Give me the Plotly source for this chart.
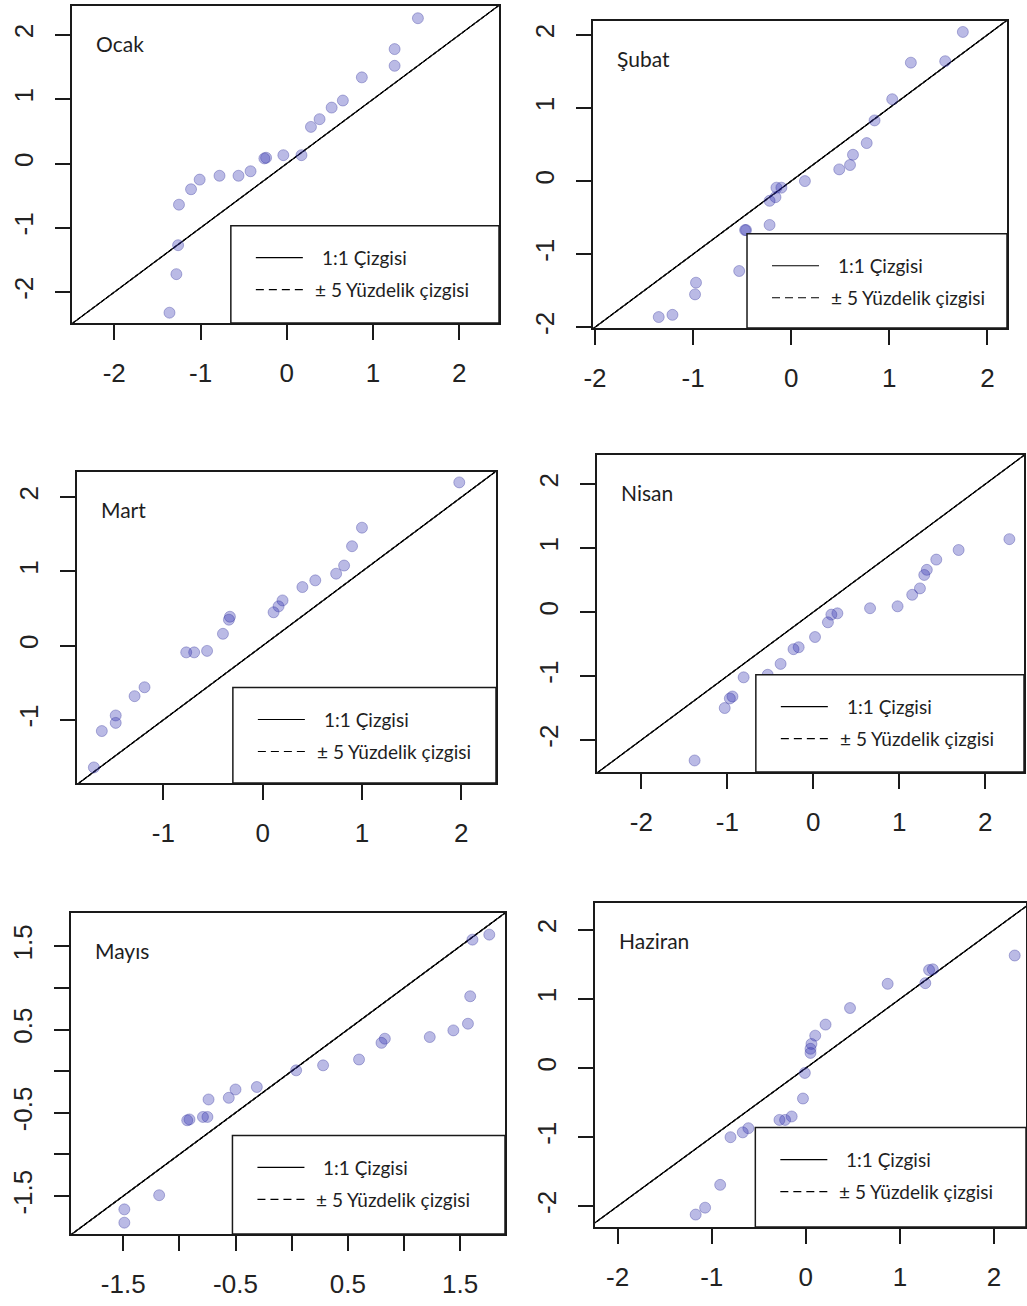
import plotly.graph_objects as go

W, H = 1027, 1306

# ---------------- data ----------------
months = ["Ocak", "Şubat", "Mart", "Nisan", "Mayıs", "Haziran"]

ocak_x = [1.52, 1.25, 1.25, 0.87, 0.65, 0.52, 0.38, 0.28, 0.17, -0.04, -0.24, -0.26, -0.42, -0.56, -0.78, -1.01, -1.11, -1.25, -1.26, -1.28, -1.36]
ocak_y = [2.26, 1.78, 1.52, 1.34, 0.98, 0.87, 0.69, 0.57, 0.13, 0.13, 0.09, 0.08, -0.12, -0.19, -0.19, -0.25, -0.40, -0.64, -1.27, -1.72, -2.32]

subat_x = [1.75, 1.22, 1.57, 1.03, 0.85, 0.77, 0.63, 0.60, 0.49, 0.14, -0.10, -0.15, -0.16, -0.22, -0.22, -0.46, -0.47, -0.53, -0.97, -0.98, -1.21, -1.35]
subat_y = [2.04, 1.62, 1.64, 1.12, 0.83, 0.52, 0.36, 0.22, 0.16, 0.00, -0.09, -0.09, -0.22, -0.27, -0.60, -0.67, -0.67, -1.23, -1.39, -1.55, -1.83, -1.86]

mart_x = [1.98, 1.00, 0.90, 0.82, 0.74, 0.53, 0.40, 0.20, 0.16, 0.11, -0.33, -0.34, -0.40, -0.56, -0.69, -0.77, -1.19, -1.29, -1.48, -1.48, -1.62, -1.70]
mart_y = [2.20, 1.59, 1.34, 1.08, 0.97, 0.88, 0.79, 0.61, 0.53, 0.45, 0.39, 0.35, 0.16, -0.07, -0.09, -0.09, -0.56, -0.68, -0.94, -1.04, -1.15, -1.64]

nisan_x = [2.28, 1.69, 1.43, 1.32, 1.29, 1.24, 1.15, 0.98, 0.66, 0.28, 0.21, 0.17, 0.02, -0.17, -0.23, -0.38, -0.53, -0.81, -0.94, -0.97, -1.03, -1.38]
nisan_y = [1.14, 0.97, 0.82, 0.66, 0.58, 0.37, 0.27, 0.09, 0.06, -0.02, -0.04, -0.16, -0.39, -0.55, -0.58, -0.81, -0.98, -1.02, -1.32, -1.35, -1.50, -2.32]

mayis_x = [1.76, 1.61, 1.59, 1.57, 1.44, 1.23, 0.83, 0.80, 0.60, 0.28, 0.04, -0.31, -0.50, -0.56, -0.74, -0.75, -0.79, -0.91, -0.93, -1.18, -1.49, -1.49]
mayis_y = [1.64, 1.58, 0.90, 0.57, 0.49, 0.41, 0.39, 0.34, 0.14, 0.07, 0.01, -0.19, -0.22, -0.32, -0.34, -0.55, -0.55, -0.58, -0.59, -1.49, -1.66, -1.82]

haziran_x = [2.22, 1.35, 1.31, 1.27, 0.87, 0.47, 0.21, 0.10, 0.06, 0.05, 0.05, -0.01, -0.03, -0.15, -0.22, -0.28, -0.61, -0.67, -0.80, -0.91, -1.07, -1.17]
haziran_y = [1.63, 1.43, 1.42, 1.23, 1.22, 0.87, 0.63, 0.47, 0.35, 0.28, 0.22, -0.07, -0.44, -0.70, -0.75, -0.75, -0.87, -0.93, -1.00, -1.69, -2.02, -2.12]

ticks_int = [-2, -1, 0, 1, 2]
ticks_mart = [-1, 0, 1, 2]
ticks_mayis = [-1.5, -1.0, -0.5, 0.0, 0.5, 1.0, 1.5]
ticktext_mayis = ["-1.5", "", "-0.5", "", "0.5", "", "1.5"]

legend_labels = ["1:1 Çizgisi", "± 5 Yüzdelik çizgisi"]
band_offset = 0.006  # ±5 percentile lines nearly coincide with 1:1

series_x = [ocak_x, subat_x, mart_x, nisan_x, mayis_x, haziran_x]
series_y = [ocak_y, subat_y, mart_y, nisan_y, mayis_y, haziran_y]

# ---------------- layout specs (pixel boxes of each panel) ----------------
panels = [
    dict(box=(72, 6, 499, 323), xr=(-2.49, 2.46), yr=(-2.48, 2.45), tv=ticks_int, tt=None),
    dict(box=(593, 21, 1007, 328), xr=(-2.02, 2.20), yr=(-2.01, 2.19), tv=ticks_int, tt=None),
    dict(box=(77, 472, 496, 783), xr=(-1.87, 2.35), yr=(-1.85, 2.34), tv=ticks_mart, tt=None),
    dict(box=(597, 455, 1024, 772), xr=(-2.515, 2.45), yr=(-2.50, 2.455), tv=ticks_int, tt=None),
    dict(box=(71, 913, 505, 1234), xr=(-1.965, 1.90), yr=(-1.956, 1.90), tv=ticks_mayis, tt=ticktext_mayis),
    dict(box=(595, 903, 1026, 1227), xr=(-2.24, 2.34), yr=(-2.30, 2.39), tv=ticks_int, tt=None),
]

def px(x):
    return x / W

def py(y):
    return 1 - y / H

fig = go.Figure()
layout = dict(
    width=W, height=H,
    margin=dict(l=0, r=0, t=0, b=0, autoexpand=False),
    paper_bgcolor="white", plot_bgcolor="white",
    showlegend=False,
)
shapes = []
annotations = []

AX = "#1a1a1a"
tick_font = dict(family="Liberation Sans, Arial, sans-serif", size=26, color="#222")
txt_font = dict(family="Lato, Open Sans, sans-serif", size=19, color="#1e1e1e")
title_font = dict(family="Lato, Open Sans, sans-serif", size=21, color="#1e1e1e")

for i, p in enumerate(panels):
    n = "" if i == 0 else str(i + 1)
    xa, ya = "x" + n, "y" + n
    x0, y0, x1, y1 = p["box"]
    lo = min(p["xr"][0], p["yr"][0]) - 1
    hi = max(p["xr"][1], p["yr"][1]) + 1
    diag = [lo, hi]

    # ±5 percentile dashed lines
    for s in (-1, 1):
        fig.add_trace(go.Scatter(
            x=diag, y=[v + s * band_offset for v in diag], mode="lines",
            line=dict(color="black", width=1, dash="4px,2px"),
            xaxis=xa, yaxis=ya, hoverinfo="skip"))
    # 1:1 line
    fig.add_trace(go.Scatter(
        x=diag, y=diag, mode="lines", line=dict(color="black", width=1.2),
        xaxis=xa, yaxis=ya, hoverinfo="skip"))
    # points
    fig.add_trace(go.Scatter(
        x=series_x[i], y=series_y[i], mode="markers",
        marker=dict(size=11, color="rgba(45,45,175,0.33)",
                    line=dict(color="rgba(40,40,150,0.33)", width=1)),
        xaxis=xa, yaxis=ya, cliponaxis=True))

    common = dict(showline=True, mirror=True, linecolor=AX, linewidth=1.5,
                  ticks="outside", ticklen=15, tickwidth=1.5, tickcolor=AX,
                  showgrid=False, zeroline=False, tickfont=tick_font,
                  automargin=False,
                  tickmode="array", tickvals=p["tv"],
                  ticktext=p["tt"] if p["tt"] else [str(v) for v in p["tv"]])
    layout["xaxis" + n] = dict(common, domain=[px(x0), px(x1)], range=list(p["xr"]),
                               anchor=ya, ticklabelstandoff=11)
    layout["yaxis" + n] = dict(common, domain=[py(y1), py(y0)], range=list(p["yr"]),
                               anchor=xa, tickangle=-90, ticklabelstandoff=12)

    # panel title
    annotations.append(dict(text=months[i], x=px(x0 + 22), y=py(y0 + 37),
                            xref="paper", yref="paper", xanchor="left", yanchor="middle",
                            showarrow=False, font=title_font))

    # legend box (bottom-right, white, drawn over the data)
    bw, bh = x1 - x0, y1 - y0
    lx0 = x0 + 0.372 * bw
    ly0 = y1 - 0.307 * bh
    shapes.append(dict(type="rect", xref="paper", yref="paper",
                       x0=px(lx0), x1=px(x1), y0=py(y1), y1=py(ly0),
                       line=dict(color=AX, width=1.5), fillcolor="white", layer="above"))
    shapes.append(dict(type="line", xref="paper", yref="paper",
                       x0=px(lx0 + 25), x1=px(lx0 + 72), y0=py(ly0 + 32), y1=py(ly0 + 32),
                       line=dict(color="black", width=1.2), layer="above"))
    shapes.append(dict(type="line", xref="paper", yref="paper",
                       x0=px(lx0 + 25), x1=px(lx0 + 73), y0=py(ly0 + 64), y1=py(ly0 + 64),
                       line=dict(color="black", width=1.2, dash="8px,5px"), layer="above"))
    annotations.append(dict(text=legend_labels[0], x=px(lx0 + 89), y=py(ly0 + 32),
                            xref="paper", yref="paper", xanchor="left", yanchor="middle",
                            showarrow=False, font=txt_font))
    annotations.append(dict(text=legend_labels[1], x=px(lx0 + 82), y=py(ly0 + 64),
                            xref="paper", yref="paper", xanchor="left", yanchor="middle",
                            showarrow=False, font=txt_font))

layout["shapes"] = shapes
layout["annotations"] = annotations
fig.update_layout(**layout)
fig.write_html("out.html")
